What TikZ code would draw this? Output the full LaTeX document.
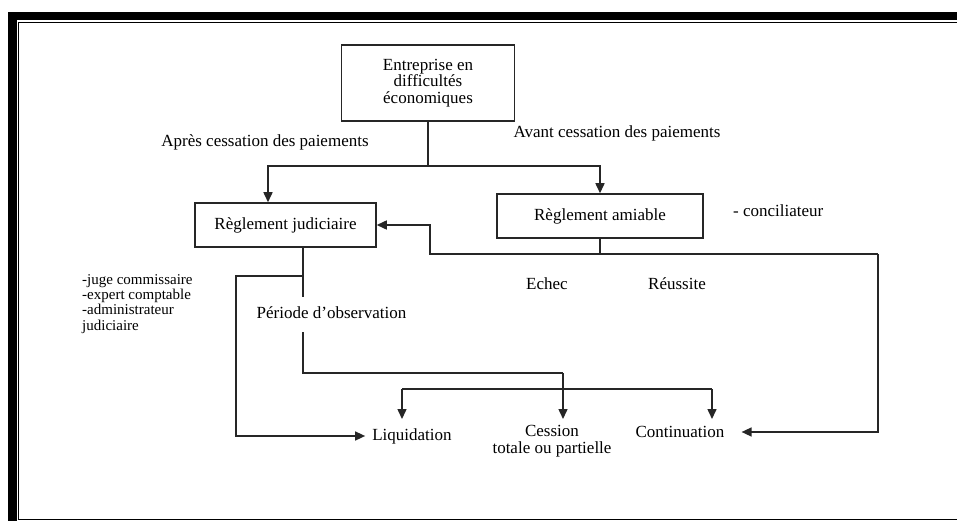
\documentclass[tikz,border=0pt]{standalone}
\usepackage{fontspec}
\setmainfont{Liberation Serif}
\usetikzlibrary{arrows.meta}
\begin{document}
\begin{tikzpicture}[x=1pt,y=-1pt,
  ln/.style={line width=1.5pt, draw=black!85},
  arr/.style={ln, -{Triangle[length=10pt,width=9pt]}},
  boxnode/.style={draw=black!85, line width=1.5pt, inner sep=0pt, align=center, font=\fontsize{17}{16.5}\selectfont, text=black},
  lbl/.style={inner sep=0pt, font=\fontsize{17}{16.5}\selectfont, text=black, align=center},
  small/.style={inner sep=0pt, font=\fontsize{15}{15.3}\selectfont, align=left, text=black}]
\useasboundingbox (0,0) rectangle (957,521);
\fill[white] (0,0) rectangle (957,521);
% frame
\fill[black] (8,12) rectangle (957,20.5);
\fill[black] (8,12) rectangle (16.5,521);
\draw[line width=1pt] (957,22.5) -- (18.5,22.5) -- (18.5,519) -- (957,519);

% boxes
\node[boxnode, minimum width=173pt, minimum height=76pt] (ent) at (428,83) {Entreprise en\\difficultés\\économiques};
\node[boxnode, minimum width=181pt, minimum height=44pt] (jud) at (285.5,225) {Règlement judiciaire};
\node[boxnode, minimum width=206pt, minimum height=44pt] (ami) at (600,216) {Règlement amiable};

% labels
\node[lbl] (apres) at (265,142) {Après cessation des paiements};
\node[lbl] (avant) at (617,133) {Avant cessation des paiements};
\node[lbl, anchor=west] (conc) at (733,211) {- conciliateur};
\node[lbl] (echec) at (547,284) {Echec};
\node[lbl] (reus) at (677,284) {Réussite};
\node[lbl] (per) at (331.5,313) {Période d’observation};
\node[small, anchor=north west] (acteurs) at (82,274) {-juge commissaire\\-expert comptable\\-administrateur\\judiciaire};
\node[lbl, inner xsep=7pt] (liq) at (412,436) {Liquidation};
\node[lbl] (ces) at (552,441) {Cession\\totale ou partielle};
\node[lbl, inner xsep=17pt] (cont) at (680,432) {Continuation};

% coordinates
\coordinate (s1) at (428,166);
\coordinate (h2l) at (430,254);
\coordinate (h2r) at (878,254);
\coordinate (j1) at (303,297);
\coordinate (j2) at (303,332);
\coordinate (jb) at (303,276);
\coordinate (jl) at (236,276);
\coordinate (p1) at (303,373);
\coordinate (p2) at (563,373);
\coordinate (t2) at (563,419);
\coordinate (q1) at (402,389);
\coordinate (q2) at (712,389);
\coordinate (t1) at (402,419);
\coordinate (t3) at (712,419);

% connectors
\draw[ln] (ent.south) -- (s1);
\draw[arr] (s1) -| ([xshift=-17.5pt]jud.north);
\draw[arr] (s1) -| (ami.north);
\draw[ln] (ami.south) -- (ami.south |- h2l);
\draw[arr] (h2r) -- (h2l) |- (jud.east);
\draw[arr] (h2r) |- (cont.east);
\draw[ln] ([xshift=17.5pt]jud.south) -- (j1);
\draw[arr] (jb) -- (jl) |- (liq.west);
\draw[ln] (j2) -- (p1) -- (p2);
\draw[arr] (p2) -- (t2);
\draw[ln] (q1) -- (q2);
\draw[arr] (q1) -- (t1);
\draw[arr] (q2) -- (t3);
\end{tikzpicture}
\end{document}
